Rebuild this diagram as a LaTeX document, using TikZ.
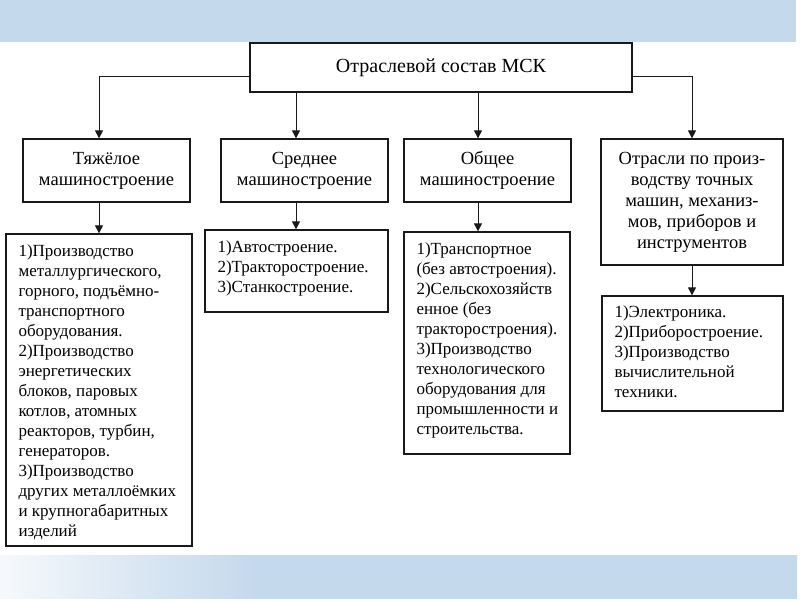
\documentclass[tikz,border=0pt]{standalone}
\usepackage{fontspec}
\setmainfont{Liberation Serif}
\usetikzlibrary{arrows.meta}
\definecolor{band}{RGB}{197,217,236}
\definecolor{bandlight}{RGB}{246,249,252}
\definecolor{edge}{RGB}{25,25,25}
\pgfdeclarehorizontalshading{bandshade}{100bp}{color(0bp)=(bandlight); color(25bp)=(bandlight); color(31bp)=(band!50!white); color(41bp)=(band); color(100bp)=(band)}
\begin{document}
\begin{tikzpicture}[x=1pt,y=-1pt,
  box/.style={draw=edge, line width=1.3pt, inner sep=0pt},
  titlebox/.style={box, minimum width=382pt, minimum height=49pt, font=\fontsize{20}{24}\selectfont},
  catbox/.style={box, align=center, font=\fontsize{18.5}{21}\selectfont},
  txt/.style={inner sep=0pt, align=left, anchor=north west, font=\fontsize{17}{20}\selectfont},
  arr/.style={draw=edge, line width=1pt, -{Triangle[length=8pt,width=8pt]}}]
\useasboundingbox (0,0) rectangle (800,600);
% bands
\fill[band] (0,0) rectangle (796,42);
\shade[shading=bandshade] (0,555) rectangle (797,598);
% title
\node[titlebox] (title) at (441,67.5) {Отраслевой состав МСК};
% categories
\node[catbox, minimum width=167pt, minimum height=63pt] (cat1) at (106.5,170.5) {Тяжёлое\\машиностроение};
\node[catbox, minimum width=167pt, minimum height=63pt] (cat2) at (304.5,170.5) {Среднее\\машиностроение};
\node[catbox, minimum width=167pt, minimum height=63pt] (cat3) at (487.5,170.5) {Общее\\машиностроение};
\node[catbox, minimum width=182pt, minimum height=126pt] (cat4) at (692,202) {Отрасли по произ-\\водству точных\\машин, механиз-\\мов, приборов и\\инструментов};
% content boxes
\node[box, minimum width=186pt, minimum height=312pt] (c1) at (99,390) {};
\node[box, minimum width=183pt, minimum height=82pt] (c2) at (296.5,271) {};
\node[box, minimum width=166pt, minimum height=222pt] (c3) at (487,343) {};
\node[box, minimum width=181pt, minimum height=115pt] (c4) at (692.5,353.5) {};
\node[txt] (t1) at ([xshift=13pt,yshift=-9pt]c1.north west) {\strut 1)Производство\\металлургического,\\горного, подъёмно-\\транспортного\\оборудования.\\2)Производство\\энергетических\\блоков, паровых\\котлов, атомных\\реакторов, турбин,\\генераторов.\\3)Производство\\других металлоёмких\\и крупногабаритных\\изделий};
\node[txt] (t2) at ([xshift=13pt,yshift=-9pt]c2.north west) {\strut 1)Автостроение.\\2)Тракторостроение.\\3)Станкостроение.};
\node[txt] (t3) at ([xshift=13pt,yshift=-9pt]c3.north west) {\strut 1)Транспортное\\(без автостроения).\\2)Сельскохозяйств\\енное (без\\тракторостроения).\\3)Производство\\технологического\\оборудования для\\промышленности и\\строительства.};
\node[txt] (t4) at ([xshift=13pt,yshift=-8pt]c4.north west) {\strut 1)Электроника.\\2)Приборостроение.\\3)Производство\\вычислительной\\техники.};
% connector columns
\coordinate (x1) at (99,0);
\coordinate (x2) at (296,0);
\coordinate (x3) at (478,0);
\coordinate (x4) at (692,0);
\draw[arr] ([yshift=-8.5pt]title.west) -| (cat1.north -| x1);
\draw[arr] ([yshift=-8.5pt]title.east) -| (cat4.north -| x4);
\draw[arr] (title.south -| x2) -- (cat2.north -| x2);
\draw[arr] (title.south -| x3) -- (cat3.north -| x3);
\draw[arr] (cat1.south -| x1) -- (c1.north -| x1);
\draw[arr] (cat2.south -| x2) -- (c2.north -| x2);
\draw[arr] (cat3.south -| x3) -- (c3.north -| x3);
\draw[arr] (cat4.south -| x4) -- (c4.north -| x4);
\end{tikzpicture}
\end{document}
